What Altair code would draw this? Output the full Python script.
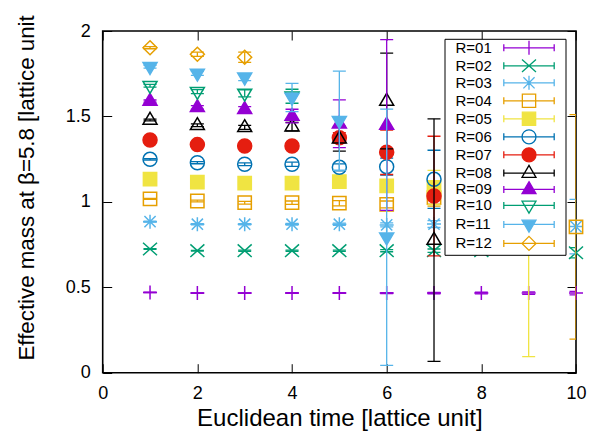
import altair as alt
import pandas as pd

FONT = "Liberation Sans"

series = ["R=01", "R=02", "R=03", "R=04", "R=05", "R=06",
          "R=07", "R=08", "R=09", "R=10", "R=11", "R=12"]
colors = ["#9400D3", "#009E73", "#56B4E9", "#E69F00", "#F0E442", "#0072B2",
          "#E51E10", "#000000", "#9400D3", "#009E73", "#56B4E9", "#E69F00"]
filled = [False, False, False, False, True, False, True, False, True, False, True, False]

# Euclidean time, effective mass, error for each R
t_01 = [1, 2, 3, 4, 5, 6, 7, 8, 9, 10]
m_01 = [0.470, 0.466, 0.466, 0.466, 0.466, 0.466, 0.466, 0.466, 0.466, 0.466]
e_01 = [0.001, 0.001, 0.001, 0.002, 0.002, 0.003, 0.004, 0.005, 0.007, 0.010]

t_02 = [1, 2, 3, 4, 5, 6, 7, 8, 9, 10]
m_02 = [0.724, 0.714, 0.714, 0.714, 0.714, 0.714, 0.714, 0.714, 0.737, 0.702]
e_02 = [0.002, 0.002, 0.003, 0.003, 0.004, 0.006, 0.010, 0.015, 0.020, 0.030]

t_03 = [1, 2, 3, 4, 5, 6, 7, 8, 9, 10]
m_03 = [0.884, 0.869, 0.869, 0.869, 0.869, 0.865, 0.870, 0.870, 0.870, 0.855]
e_03 = [0.003, 0.003, 0.004, 0.005, 0.007, 0.012, 0.020, 0.040, 0.060, 0.160]

t_04 = [1, 2, 3, 4, 5, 6, 7, 10]
m_04 = [1.017, 1.005, 0.995, 0.995, 0.992, 0.985, 1.025, 0.853]
e_04 = [0.003, 0.005, 0.008, 0.010, 0.015, 0.020, 0.050, 0.657]

t_05 = [1, 2, 3, 4, 5, 6, 7, 9]
m_05 = [1.133, 1.116, 1.110, 1.110, 1.118, 1.093, 1.084, 0.950]
e_05 = [0.004, 0.005, 0.008, 0.010, 0.015, 0.020, 0.100, 0.856]

t_06 = [1, 2, 3, 4, 5, 6, 7]
m_06 = [1.249, 1.229, 1.220, 1.220, 1.202, 1.206, 1.132]
e_06 = [0.004, 0.006, 0.008, 0.012, 0.020, 0.050, 0.170]

t_07 = [1, 2, 3, 4, 5, 6, 7]
m_07 = [1.362, 1.335, 1.327, 1.327, 1.375, 1.290, 1.034]
e_07 = [0.005, 0.007, 0.010, 0.015, 0.030, 0.130, 0.350]

t_08 = [1, 2, 3, 4, 5, 6, 7]
m_08 = [1.479, 1.448, 1.436, 1.440, 1.369, 1.590, 0.776]
e_08 = [0.005, 0.008, 0.012, 0.025, 0.072, 0.280, 0.710]

t_09 = [1, 2, 3, 4, 5, 6]
m_09 = [1.590, 1.553, 1.542, 1.502, 1.457, 1.450]
e_09 = [0.006, 0.010, 0.015, 0.040, 0.140, 0.500]

t_10 = [1, 2, 3, 4]
m_10 = [1.680, 1.645, 1.635, 1.618]
e_10 = [0.008, 0.012, 0.020, 0.041]

t_11 = [1, 2, 3, 4, 5, 6]
m_11 = [1.791, 1.752, 1.729, 1.611, 1.475, 0.793]
e_11 = [0.008, 0.012, 0.020, 0.083, 0.290, 0.750]

t_12 = [1, 2, 3]
m_12 = [1.902, 1.864, 1.846]
e_12 = [0.006, 0.012, 0.030]

all_t = [t_01, t_02, t_03, t_04, t_05, t_06, t_07, t_08, t_09, t_10, t_11, t_12]
all_m = [m_01, m_02, m_03, m_04, m_05, m_06, m_07, m_08, m_09, m_10, m_11, m_12]
all_e = [e_01, e_02, e_03, e_04, e_05, e_06, e_07, e_08, e_09, e_10, e_11, e_12]

x_ticks = [0, 2, 4, 6, 8, 10]
y_ticks = [0, 0.5, 1, 1.5, 2]

# marker shapes (gnuplot point types 1..12)
PLUS = "M-1,0L1,0M0,-1L0,1"
CROSS = "M-1,-0.9L1,0.9M-1,0.9L1,-0.9"
STAR = "M-1,0L1,0M0,-1L0,1M-0.8,-0.8L0.8,0.8M-0.8,0.8L0.8,-0.8"
SQUARE = "M-0.95,-0.95L0.95,-0.95L0.95,0.95L-0.95,0.95Z"
CIRCLE = "M1,0A1,1,0,1,1,-1,0A1,1,0,1,1,1,0Z"
TRI_UP = "M0,-1.1L1,0.6L-1,0.6Z"
TRI_DN = "M0,1.1L1,-0.6L-1,-0.6Z"
DIAMOND = "M0,-1L1,0L0,1L-1,0Z"
marker_paths = [PLUS, CROSS, STAR, SQUARE, SQUARE, CIRCLE, CIRCLE,
                TRI_UP, TRI_UP, TRI_DN, TRI_DN, DIAMOND]
BAR = "M-3.6,0L3.6,0M-3.6,-0.5L-3.6,0.5M3.6,-0.5L3.6,0.5"
legend_paths = [BAR + p + "M4.6,0" for p in marker_paths]
legend_fills = [c if f else "transparent" for c, f in zip(colors, filled)]

xscale = alt.Scale(domain=[0, 10], nice=False, zero=False)
yscale = alt.Scale(domain=[0, 2], nice=False, zero=False)

axis_common = dict(tickSize=9, offset=-9, domain=False, grid=False,
                   tickColor="black", tickWidth=1, labelFont=FONT,
                   labelColor="black", titleFont=FONT, titleColor="black",
                   titleFontWeight="normal", labelFlush=False)

x_axis_main = alt.Axis(orient="bottom", values=x_ticks, format="d",
                       labelPadding=12, labelFontSize=18,
                       title="Euclidean time [lattice unit]", titleFontSize=24,
                       titleBaseline="alphabetic", titleY=62, **axis_common)
y_axis_main = alt.Axis(orient="left", values=y_ticks, format="~g",
                       labelPadding=12.5, labelFontSize=18,
                       title="Effective mass at β=5.8 [lattice unit",
                       titleFontSize=22.3, titleAngle=270, titleAlign="left",
                       titleBaseline="alphabetic", titleX=-78, titleY=329,
                       **axis_common)
x_axis_top = alt.Axis(orient="top", values=x_ticks, labels=False, title=None,
                      **axis_common)
y_axis_right = alt.Axis(orient="right", values=y_ticks, labels=False, title=None,
                        **axis_common)

layers = []
for i, name in enumerate(series):
    df = pd.DataFrame({"t": all_t[i], "m": all_m[i], "e": all_e[i]})
    df["lo"] = df["m"] - df["e"]
    df["hi"] = df["m"] + df["e"]
    c = colors[i]
    base = alt.Chart(df)
    xa = x_axis_main if i == 0 else None
    ya = y_axis_main if i == 0 else None
    rule = base.mark_rule(color=c, strokeWidth=1.3, clip=True).encode(
        x=alt.X("t:Q", scale=xscale, axis=xa),
        y=alt.Y("lo:Q", scale=yscale, axis=ya),
        y2="hi:Q",
    )
    cap_lo = base.mark_point(shape="M-1,0L1,0", size=169, filled=False, color=c,
                             strokeWidth=1.3, opacity=1, clip=True).encode(
        x=alt.X("t:Q", scale=xscale, axis=None),
        y=alt.Y("lo:Q", scale=yscale, axis=None),
    )
    cap_hi = base.mark_point(shape="M-1,0L1,0", size=169, filled=False, color=c,
                             strokeWidth=1.3, opacity=1, clip=True).encode(
        x=alt.X("t:Q", scale=xscale, axis=None),
        y=alt.Y("hi:Q", scale=yscale, axis=None),
    )
    if filled[i]:
        pt = base.mark_point(shape=marker_paths[i], size=196, filled=True, color=c,
                             stroke=c, strokeWidth=1.5, opacity=1)
    else:
        pt = base.mark_point(shape=marker_paths[i], size=196, filled=False, color=c,
                             strokeWidth=1.5, opacity=1)
    pt = pt.encode(
        x=alt.X("t:Q", scale=xscale, axis=None),
        y=alt.Y("m:Q", scale=yscale, axis=None),
    )
    layers += [rule, cap_lo, cap_hi, pt]

leg_df = pd.DataFrame({"t": [1] * len(series), "m": [1] * len(series), "R": series})
leg = alt.Legend(title=None, orient="none", legendX=341.8, legendY=7.8,
                 padding=1, rowPadding={"expr": "-2.7"},
                 labelOffset={"expr": "-81.5"}, symbolOffset=75.5,
                 symbolSize=196, symbolStrokeWidth=1.3, labelFont=FONT,
                 labelFontSize=15, labelColor="black", fillColor="white",
                 strokeColor="black", zindex=1)
legend_layer = alt.Chart(leg_df).mark_point(opacity=1, strokeWidth=1.3).encode(
    x=alt.X("t:Q", scale=xscale, axis=x_axis_top),
    y=alt.Y("m:Q", scale=yscale, axis=y_axis_right),
    shape=alt.Shape("R:N", scale=alt.Scale(domain=series, range=legend_paths), legend=leg),
    stroke=alt.Stroke("R:N", scale=alt.Scale(domain=series, range=colors), legend=leg),
    fill=alt.Fill("R:N", scale=alt.Scale(domain=series, range=legend_fills), legend=leg),
).transform_filter("false")

chart = alt.layer(*layers, legend_layer).resolve_axis(
    x="independent", y="independent"
).properties(
    width=473.3, height=341.7,
    autosize=alt.AutoSizeParams(type="none"),
    padding={"left": 94.7, "top": 23, "right": 16, "bottom": 59.3},
    background="white",
).configure_view(stroke="black", strokeWidth=1.6)

chart.save("out.html", embed_options={"renderer": "svg", "actions": False})
